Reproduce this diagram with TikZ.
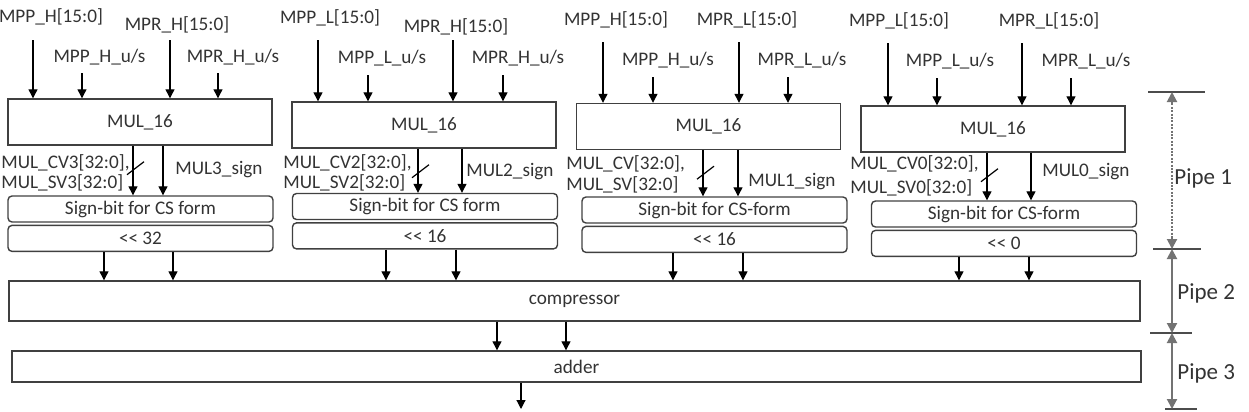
\documentclass[tikz,border=0pt]{standalone}
\usepackage{fontspec}
\setmainfont{Carlito}
\usetikzlibrary{arrows.meta,positioning}

\begin{document}
\begin{tikzpicture}[
  x=0.5pt, y=-0.5pt,
  font=\fontsize{9.6}{11}\selectfont,
  mul/.style={draw=black!75, line width=0.7pt, minimum width=132pt,
    minimum height=23pt, inner sep=1pt, text=black!80},
  sgn/.style={draw=black!75, line width=0.7pt, rounded corners=2pt,
    minimum width=132.5pt, minimum height=13pt, inner sep=1pt, text=black!80},
  wide/.style={draw=black!75, line width=0.7pt, inner sep=1pt, text=black!80},
  lbl/.style={text=black!80, inner sep=0pt},
  plbl/.style={text=black!80, inner sep=0pt, anchor=west,
    font=\fontsize{11.5}{13}\selectfont},
  arr/.style={-{Triangle[length=4.5pt, width=4.5pt]}, line width=0.6pt},
  pipe/.style={{Triangle[length=5pt, width=5pt]}-{Triangle[length=5pt, width=5pt]},
    line width=1pt, draw=black!55},
  ptip/.style={-{Triangle[length=5pt, width=5pt]}, line width=1pt, draw=black!55},
  tick/.style={line width=0.8pt, draw=black!70}
]
  \useasboundingbox (0,0) rectangle (1249,412);

  % block 3
  \node[mul] (mulA) at (140,122) {MUL\_16};
  \node[sgn] (sgnA) at (140.5,209) {Sign-bit for CS form};
  \node[sgn, below=1pt of sgnA] (shfA) {<\kern0pt< 32};
  \node[lbl] (ppA) at (51,17) {MPP\_H[15:0]};
  \node[lbl] (prA) at (177,25) {MPR\_H[15:0]};
  \node[lbl] (pusA) at (99.5,57) {MPP\_H\_u/s};
  \node[lbl] (rusA) at (233,57) {MPR\_H\_u/s};
  \node[lbl, anchor=west] (cvA) at (1,163) {MUL\_CV3[32:0],};
  \node[lbl, anchor=west] (svA) at (1,183) {MUL\_SV3[32:0]};
  \node[lbl] (sgA) at (219,170) {MUL3\_sign};
  \coordinate (iA1) at (33,40);
  \coordinate (iA2) at (82,73);
  \coordinate (iA3) at (170,40);
  \coordinate (iA4) at (218,73);
  \coordinate (oA1) at (133,0);
  \coordinate (oA2) at (163,0);
  \coordinate (dA1) at (104,0);
  \coordinate (dA2) at (173,0);

  % block 2
  \node[mul] (mulB) at (424,125) {MUL\_16};
  \node[sgn] (sgnB) at (425,206.5) {Sign-bit for CS form};
  \node[sgn, below=1pt of sgnB] (shfB) {<\kern0pt< 16};
  \node[lbl] (ppB) at (330,18) {MPP\_L[15:0]};
  \node[lbl] (prB) at (456,27) {MPR\_H[15:0]};
  \node[lbl] (pusB) at (382,58) {MPP\_L\_u/s};
  \node[lbl] (rusB) at (518,58) {MPR\_H\_u/s};
  \node[lbl, anchor=west] (cvB) at (283,163) {MUL\_CV2[32:0],};
  \node[lbl, anchor=west] (svB) at (283,183) {MUL\_SV2[32:0]};
  \node[lbl] (sgB) at (510,172) {MUL2\_sign};
  \coordinate (iB1) at (318,40);
  \coordinate (iB2) at (368,75);
  \coordinate (iB3) at (453,40);
  \coordinate (iB4) at (503,75);
  \coordinate (oB1) at (418,0);
  \coordinate (oB2) at (462,0);
  \coordinate (dB1) at (386,0);
  \coordinate (dB2) at (456,0);

  % block 1
  \node[mul] (mulC) at (708.5,126.5) {MUL\_16};
  \node[sgn] (sgnC) at (714.5,210) {Sign-bit for CS-form};
  \node[sgn, below=1pt of sgnC] (shfC) {<\kern0pt< 16};
  \node[lbl] (ppC) at (616,20) {MPP\_H[15:0]};
  \node[lbl] (prC) at (747,20) {MPR\_L[15:0]};
  \node[lbl] (pusC) at (668,60) {MPP\_H\_u/s};
  \node[lbl] (rusC) at (802,60) {MPR\_L\_u/s};
  \node[lbl, anchor=west] (cvC) at (566,164) {MUL\_CV[32:0],};
  \node[lbl, anchor=west] (svC) at (566,185) {MUL\_SV[32:0]};
  \node[lbl] (sgC) at (792,182) {MUL1\_sign};
  \coordinate (iC1) at (603,42);
  \coordinate (iC2) at (653,77);
  \coordinate (iC3) at (739,42);
  \coordinate (iC4) at (788,77);
  \coordinate (oC1) at (703,0);
  \coordinate (oC2) at (738,0);
  \coordinate (dC1) at (673,0);
  \coordinate (dC2) at (743,0);

  % block 0
  \node[mul] (mulD) at (993,129) {MUL\_16};
  \node[sgn] (sgnD) at (1004,214) {Sign-bit for CS-form};
  \node[sgn, below=1pt of sgnD] (shfD) {<\kern0pt< 0};
  \node[lbl] (ppD) at (899,21) {MPP\_L[15:0]};
  \node[lbl] (prD) at (1049,21) {MPR\_L[15:0]};
  \node[lbl] (pusD) at (950,61) {MPP\_L\_u/s};
  \node[lbl] (rusD) at (1086,61) {MPR\_L\_u/s};
  \node[lbl, anchor=west] (cvD) at (850,164) {MUL\_CV0[32:0],};
  \node[lbl, anchor=west] (svD) at (850,188) {MUL\_SV0[32:0]};
  \node[lbl] (sgD) at (1086,172) {MUL0\_sign};
  \coordinate (iD1) at (888,43);
  \coordinate (iD2) at (937,78);
  \coordinate (iD3) at (1022,43);
  \coordinate (iD4) at (1071,78);
  \coordinate (oD1) at (987,0);
  \coordinate (oD2) at (1031,0);
  \coordinate (dD1) at (959,0);
  \coordinate (dD2) at (1029,0);

  % compressor and adder
  \node[wide, minimum width=565.5pt, minimum height=20pt] (comp) at (574.5,301) {compressor};
  \node[wide, minimum width=564.5pt, minimum height=15.5pt] (add) at (576.5,366.5) {adder};
  \coordinate (cx1) at (497,0);
  \coordinate (cx2) at (566,0);
  \coordinate (out) at (521,409);

  % arrows into and out of the multipliers
  \foreach \b in {A,B,C,D} {
    \draw[arr] (i\b1) -- (i\b1 |- mul\b.north);
    \draw[arr] (i\b2) -- (i\b2 |- mul\b.north);
    \draw[arr] (i\b3) -- (i\b3 |- mul\b.north);
    \draw[arr] (i\b4) -- (i\b4 |- mul\b.north);
    \draw[arr] (o\b1 |- mul\b.south) -- (o\b1 |- sgn\b.north);
    \draw[arr] (o\b2 |- mul\b.south) -- (o\b2 |- sgn\b.north);
    \draw[line width=0.6pt] (o\b1 |- mul\b.south) ++(-6,29) -- ++(17,-13);
    \draw[arr] (d\b1 |- shf\b.south) -- (d\b1 |- comp.north);
    \draw[arr] (d\b2 |- shf\b.south) -- (d\b2 |- comp.north);
  }
  \draw[arr] (cx1 |- comp.south) -- (cx1 |- add.north);
  \draw[arr] (cx2 |- comp.south) -- (cx2 |- add.north);
  \draw[arr] (out |- add.south) -- (out);

  % pipe stages
  \coordinate (t1) at (1172,92);
  \coordinate (t2) at (1172,249);
  \coordinate (t3) at (1172,333);
  \coordinate (t4) at (1172,409);
  \draw[tick] ([xshift=-12pt]t1) -- ([xshift=16.5pt]t1);
  \draw[tick] ([xshift=-9.5pt]t2) -- ([xshift=14.5pt]t2);
  \draw[tick] ([xshift=-11pt]t3) -- ([xshift=10pt]t3);
  \draw[tick] ([xshift=-3.5pt]t4) -- ([xshift=12.5pt]t4);
  \draw[line width=1pt, draw=black!55, dash pattern=on 1pt off 0.7pt]
    ([yshift=-4pt]t1) -- ([yshift=4pt]t2);
  \draw[ptip] ([yshift=-6pt]t1) -- (t1);
  \draw[ptip] ([yshift=6pt]t2) -- (t2);
  \draw[pipe] (t2) -- (t3);
  \draw[pipe] (t3) -- (t4);
  \node[plbl] (p1) at (1174,178) {Pipe 1};
  \node[plbl] (p2) at (1177,293) {Pipe 2};
  \node[plbl] (p3) at (1177,373) {Pipe 3};
\end{tikzpicture}
\end{document}
